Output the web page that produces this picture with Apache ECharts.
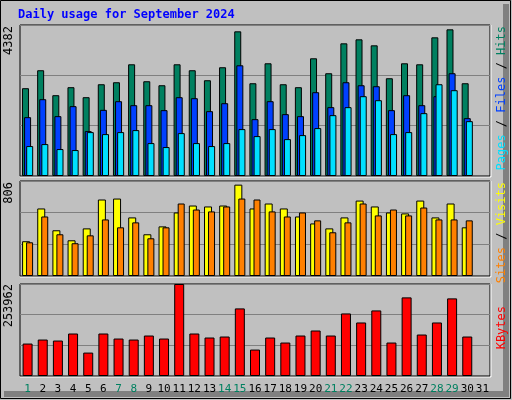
<!DOCTYPE html>
<html><head><meta charset="utf-8">
<script src="https://cdn.jsdelivr.net/npm/echarts@6/dist/echarts.min.js"></script>
<style>html,body{margin:0;padding:0;background:#c0c0c0}#c{width:512px;height:400px}</style>
</head><body><div id="c"></div>
<script>
const days = Array.from({length:31},(_,i)=>String(i+1));
const weekend = ['1','7','8','14','15','21','22','28','29'];
const hits  = [2548,3069,2345,2577,2287,2663,2721,3242,2750,2634,3242,3069,2779,3156,4198,2692,3271,2663,2577,3416,2982,3850,3966,3792,2837,3271,3242,4024,4256,2692];
const files = [1708,2229,1737,2027,1303,1920,2171,2055,2055,1911,2287,2258,1882,2113,3213,1650,2171,1795,1737,2432,1998,2721,2634,2605,1911,2345,2055,2316,2982,1679];
const pages = [869,926,782,753,1274,1216,1274,1332,955,840,1245,955,869,955,1361,1158,1361,1071,1187,1390,1766,1998,2316,2200,1216,1274,1824,2663,2490,1592];
const visits= [295,573,388,303,404,649,657,497,354,421,539,598,590,598,775,573,615,573,505,446,404,497,640,590,539,531,640,497,615,413];
const sites = [286,505,354,278,345,480,413,455,320,413,615,564,548,590,657,649,548,505,539,472,371,455,615,514,564,514,581,480,480,472];
const kbytes= [89580,100660,97890,117280,64645,117280,103430,100660,111740,103430,253962,117280,106200,108970,186550,72960,106200,92350,111740,125600,111740,172690,147760,181000,92350,217020,114510,147760,214250,108970];
const maxHits = 4382, maxVisits = 806, maxKB = 253962;

const L=20, R=22;
const grids=[{left:L,right:R,top:25,height:151},{left:L,right:R,top:181,height:95},{left:L,right:R,top:284,height:92}];
const mono='"DejaVu Sans Mono", monospace';
function xa(i,show){return {type:'category',gridIndex:i,data:days,axisLine:{show:false},axisTick:{show:false},
 axisLabel:{show:show,fontFamily:mono,fontSize:11,margin:8,interval:0,color:(v)=>weekend.includes(v)?'#008060':'#000'}};}
function ya(i,max){return {type:'value',gridIndex:i,min:0,max:max,interval:max/3,axisLabel:{show:false},axisLine:{show:false},axisTick:{show:false},
 splitLine:{lineStyle:{color:'#808080',width:1}}};}
const bs={borderColor:'#000',borderWidth:1};
function bar(name,data,xi,color,w,gap,z){return {name,type:'bar',xAxisIndex:xi,yAxisIndex:xi,data,barWidth:w,barGap:gap,z:z,itemStyle:Object.assign({color},bs),animation:false};}
const ch=echarts.init(document.getElementById('c'),null,{renderer:'canvas'});
const f12='12px '+mono;
ch.setOption({
 backgroundColor:'#c0c0c0',
 grid:grids.map(g=>Object.assign({show:true,borderColor:'#000',borderWidth:1,backgroundColor:'#c0c0c0'},g)),
 xAxis:[xa(0,false),xa(1,false),xa(2,true)],
 yAxis:[ya(0,maxHits),ya(1,maxVisits),ya(2,maxKB)],
 series:[
  bar('Hits',hits,0,'#008060',7,'-70%',2),
  bar('Files',files,0,'#0040ff',7,'-70%',3),
  bar('Pages',pages,0,'#00e0ff',7,'-70%',4),
  bar('Visits',visits,1,'#ffff00',8,'-50%',2),
  bar('Sites',sites,1,'#ff8000',7,'-50%',3),
  bar('KBytes',kbytes,2,'#ff0000',10,'0%',2)
 ],
 graphic:[
  {type:'rect',shape:{x:0.5,y:0.5,width:510,height:398},style:{fill:'none',stroke:'#000',lineWidth:1},silent:true},
  {type:'polyline',shape:{points:[[506,4],[506,394],[4,394]]},style:{stroke:'#808080',lineWidth:6,fill:'none'},silent:true},
  {type:'polyline',shape:{points:[[491,25],[491,177],[20,177]]},style:{stroke:'#fff',lineWidth:1,fill:'none'}},
  {type:'polyline',shape:{points:[[491,181],[491,277],[20,277]]},style:{stroke:'#fff',lineWidth:1,fill:'none'}},
  {type:'polyline',shape:{points:[[491,284],[491,377],[20,377]]},style:{stroke:'#fff',lineWidth:1,fill:'none'}},
  {type:'text',x:18,y:9,style:{text:'Daily usage for September 2024',font:'bold 12px '+mono,fill:'#0000ff'}},
  {type:'text',x:9,y:26,rotation:Math.PI/2,style:{text:String(maxHits),font:f12,fill:'#000',align:'right',verticalAlign:'middle'}},
  {type:'text',x:9,y:182,rotation:Math.PI/2,style:{text:String(maxVisits),font:f12,fill:'#000',align:'right',verticalAlign:'middle'}},
  {type:'text',x:9,y:284,rotation:Math.PI/2,style:{text:String(maxKB),font:f12,fill:'#000',align:'right',verticalAlign:'middle'}},
  {type:'text',x:502,y:26,rotation:Math.PI/2,style:{text:'{p|Pages}{s| / }{f|Files}{s| / }{h|Hits}',font:f12,align:'right',verticalAlign:'middle',
    rich:{h:{fill:'#008060',font:f12},f:{fill:'#0040ff',font:f12},p:{fill:'#00e0ff',font:f12},s:{fill:'#000',font:f12}}}},
  {type:'text',x:502,y:182,rotation:Math.PI/2,style:{text:'{t|Sites}{s| / }{v|Visits}',font:f12,align:'right',verticalAlign:'middle',
    rich:{v:{fill:'#ffff00',font:f12},t:{fill:'#ff8000',font:f12},s:{fill:'#000',font:f12}}}},
  {type:'text',x:502,y:306,rotation:Math.PI/2,style:{text:'KBytes',font:f12,fill:'#ff0000',align:'right',verticalAlign:'middle'}}
 ]
});
</script></body></html>
